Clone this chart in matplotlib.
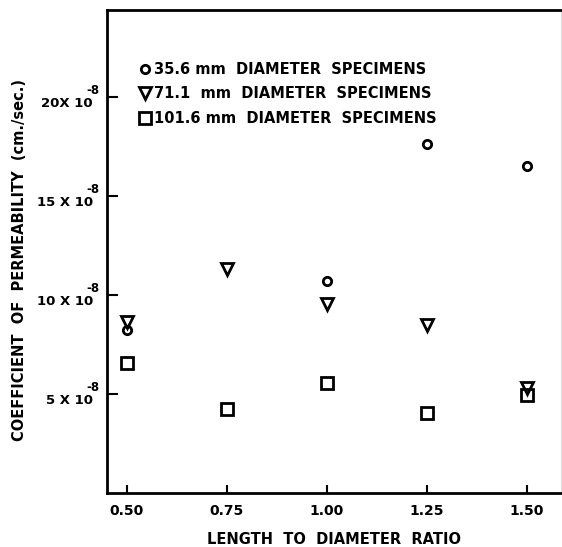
import matplotlib.pyplot as plt
from matplotlib.ticker import FixedLocator

# --- Data: permeability (x 1e-8 cm/sec) against length/diameter ratio ---
ratio = [0.50, 0.75, 1.00, 1.25, 1.50]
k_35mm = [8.2, None, 10.7, 17.6, 16.5]     # 35.6 mm specimens
k_71mm = [8.65, 11.3, 9.55, 8.5, 5.3]      # 71.1 mm specimens
k_101mm = [6.55, 4.25, 5.55, 4.05, 4.95]   # 101.6 mm specimens
series_labels = ['35.6 mm  DIAMETER  SPECIMENS',
                 '71.1  mm  DIAMETER  SPECIMENS',
                 '101.6 mm  DIAMETER  SPECIMENS']
y_ticks = [5, 10, 15, 20]
y_tick_text = ['5 X 10', '10 X 10', '15 X 10', '20X 10']
x_ticks = [0.50, 0.75, 1.00, 1.25, 1.50]

plt.rcParams['font.family'] = ['DejaVu Sans']
plt.rcParams['font.weight'] = 'bold'

fig = plt.figure(figsize=(5.62, 5.47), dpi=100)
ax = fig.add_axes([0.19, 0.0993, 0.808, 0.8825])


def pairs(xs, ys):
    pts = [(x, y) for x, y in zip(xs, ys) if y is not None]
    return [p[0] for p in pts], [p[1] for p in pts]


mk = dict(linestyle='none', markerfacecolor='none', markeredgecolor='black',
          markeredgewidth=2.0)
x, y = pairs(ratio, k_35mm)
ax.plot(x, y, marker='o', markersize=6, label=series_labels[0], **mk)
x, y = pairs(ratio, k_71mm)
ax.plot(x, y, marker='v', markersize=8, label=series_labels[1], **mk)
x, y = pairs(ratio, k_101mm)
ax.plot(x, y, marker='s', markersize=9, label=series_labels[2], **mk)

ax.set_xlim(0.45, 1.585)
ax.set_ylim(0, 24.4)

ax.xaxis.set_major_locator(FixedLocator(x_ticks))
ax.set_xticklabels([f'{v:.2f}' for v in x_ticks])
ax.yaxis.set_major_locator(FixedLocator(y_ticks))
ax.set_yticklabels(y_tick_text)

ax.tick_params(axis='x', direction='in', length=6, width=1.5, labelsize=10, pad=8)
ax.tick_params(axis='y', direction='in', length=8, width=1.5, labelsize=9.5, pad=10)
for lbl in ax.get_yticklabels():
    lbl.set_verticalalignment('top')

# raised "-8" exponent above each y tick label
for v in y_ticks:
    ax.annotate('-8', xy=(0, v), xycoords=('axes fraction', 'data'),
                xytext=(-5, 0), textcoords='offset points',
                ha='right', va='bottom', fontsize=8.5, fontweight='bold')

for side in ['left', 'bottom', 'top']:
    ax.spines[side].set_linewidth(2)
ax.spines['right'].set_linewidth(0.6)
ax.spines['right'].set_color('#d8d8d8')

ax.set_xlabel('LENGTH  TO  DIAMETER  RATIO', fontsize=10.5, fontweight='bold', labelpad=10)
ax.set_ylabel('COEFFICIENT  OF  PERMEABILITY  (cm./sec.)', fontsize=10.5,
              fontweight='bold')
ax.yaxis.set_label_coords(-0.176, 0.481)

leg = ax.legend(loc='upper left', bbox_to_anchor=(0.064, 0.905), frameon=False,
                fontsize=10.5, handlelength=0.5, handletextpad=0.35,
                labelspacing=0.65, borderaxespad=0)

fig.savefig('out.png', dpi=100)
